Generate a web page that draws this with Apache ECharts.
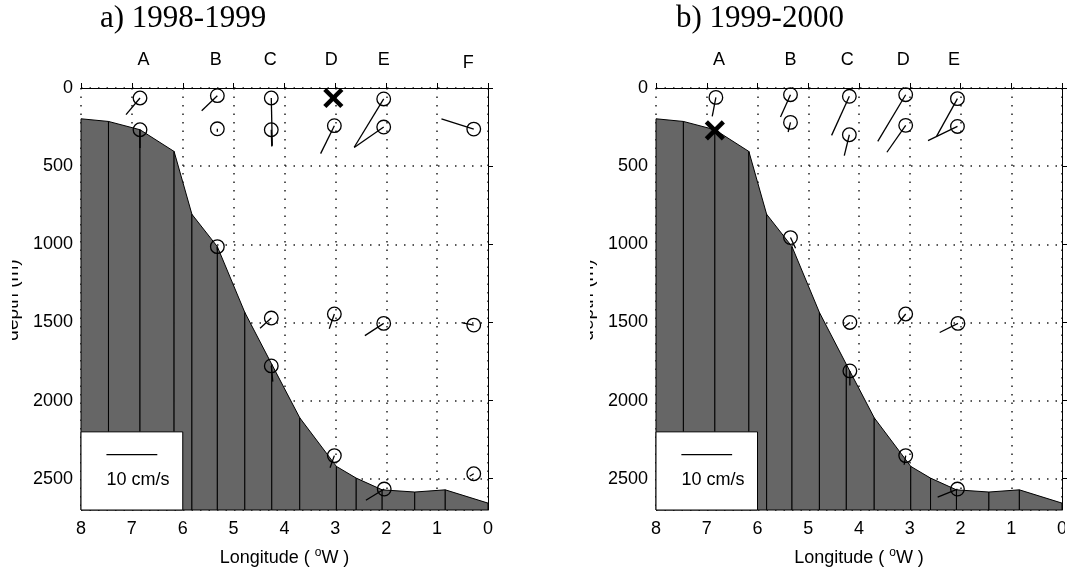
<!DOCTYPE html>
<html>
<head>
<meta charset="utf-8">
<script src="https://cdn.jsdelivr.net/npm/echarts@6/dist/echarts.min.js"></script>
<style>
  html, body { margin: 0; padding: 0; background: #fff; }
  #chart { width: 1086px; height: 574px; }
</style>
</head>
<body>
<div id="chart"></div>
<script>
// ---- Bathymetry along the section (longitude in degrees W, depth in m) ----
const bathyLon   = [8.0, 7.46, 6.84, 6.17, 5.82, 5.32, 4.78, 4.25, 3.70, 2.98, 2.59, 2.08, 1.44, 0.84, 0.0];
const bathyDepth = [197, 214, 267, 406, 808, 1015, 1436, 1768, 2110, 2421, 2496, 2571, 2585, 2571, 2656];
const maxDepth = 2700;

// ---- Axis ticks ----
const lonTicks   = [0, 1, 2, 3, 4, 5, 6, 7, 8];
const depthTicks = [0, 500, 1000, 1500, 2000, 2500];

// ---- 1998-1999: current meters (lon, depth, east cm/s, north cm/s) ----
const lon9899   = [6.84, 6.84, 5.32, 5.32, 5.32, 4.26, 4.26, 4.26, 4.26, 3.02, 3.02, 3.02, 2.05, 2.05, 2.05, 2.04, 0.28, 0.28, 0.28];
const depth9899 = [64, 267, 49, 261, 1015, 64, 267, 1472, 1778, 241, 1446, 2352, 70, 250, 1506, 2566, 263, 1517, 2468];
const u9899     = [-2.75, 0.0, -3.08, 0.0, 0.0, 0.2, 0.1, -2.2, 0.3, -2.7, -1.0, -0.85, -5.8, -5.8, -3.7, -3.6, -6.35, -2.4, -0.8];
const v9899     = [-3.28, -3.6, -2.95, -0.6, -0.6, -9.4, -3.3, -2.0, -3.1, -5.5, -2.9, -2.4, -9.5, -4.0, -2.4, -2.2, 2.0, 0.5, -0.5];
// instruments without a record
const lostLon9899   = [3.04];
const lostDepth9899 = [64];
// mooring names
const moorings9899     = ['A', 'B', 'C', 'D', 'E', 'F'];
const mooringLon9899   = [6.77, 5.35, 4.28, 3.08, 2.05, 0.39];
const mooringDepth9899 = [-179, -179, -179, -179, -179, -160];

// ---- 1999-2000 ----
const lon9900   = [6.82, 5.35, 5.35, 5.35, 4.19, 4.19, 4.18, 4.18, 3.08, 3.08, 3.08, 3.08, 2.06, 2.06, 2.05, 2.06];
const depth9900 = [60, 43, 220, 957, 53, 299, 1500, 1810, 43, 239, 1446, 2352, 68, 246, 1506, 2566];
const u9900     = [-0.72, -1.97, -0.46, 1.0, -3.5, -1.0, -1.0, 0.0, -5.5, -3.7, -1.6, -0.3, -4.1, -5.8, -3.6, -3.9];
const v9900     = [-3.73, -4.4, -1.9, -2.1, -7.7, -4.1, -0.8, -2.9, -9.2, -5.3, -2.0, -1.8, -7.4, -2.8, -1.8, -1.6];
const lostLon9900   = [6.84];
const lostDepth9900 = [271];
const moorings9900     = ['A', 'B', 'C', 'D', 'E'];
const mooringLon9900   = [6.76, 5.35, 4.23, 3.13, 2.13];
const mooringDepth9900 = [-179, -179, -179, -179, -179];

// ---- Velocity scale: a 10 cm/s stick spans one degree of longitude ----
const scaleSpeed = 10;
const scaleLonSpan = 1;
const scaleBoxLon = [8, 6];
const scaleBoxDepth = [2200, 2700];
const scaleBarLon = 7.5;
const scaleBarDepth = 2346;
const scaleTextDepth = 2506;
const scaleText = '10 cm/s';

const FONT = "'Liberation Sans', Arial, Helvetica, sans-serif";
const SERIF = "'Liberation Serif', 'Times New Roman', serif";
const FS = 18;

function pxPerCm(api) {
  return Math.abs(api.coord([scaleLonSpan, 0])[0] - api.coord([0, 0])[0]) / scaleSpeed;
}

// one trapezoid per bathymetry segment, outlined like a patch
const bathySegments = bathyLon.slice(0, -1).map((lon, i) =>
  [lon, bathyDepth[i], bathyLon[i + 1], bathyDepth[i + 1]]);

function bathySeries(p) {
  return {
    type: 'custom', xAxisIndex: p, yAxisIndex: p, z: 2,
    data: bathySegments,
    renderItem: (params, api) => {
      const a = api.coord([api.value(0), api.value(1)]);
      const b = api.coord([api.value(2), api.value(3)]);
      const bb = api.coord([api.value(2), maxDepth]);
      const ab = api.coord([api.value(0), maxDepth]);
      return {
        type: 'polygon',
        shape: { points: [a, b, bb, ab] },
        style: { fill: '#666666', stroke: '#000', lineWidth: 1 }
      };
    }
  };
}

function stickSeries(p, lon, depth, u, v) {
  return {
    type: 'custom', xAxisIndex: p, yAxisIndex: p, z: 4,
    data: lon.map((x, i) => [x, depth[i], u[i], v[i]]),
    renderItem: (params, api) => {
      const c = api.coord([api.value(0), api.value(1)]);
      const k = pxPerCm(api);
      return {
        type: 'group',
        children: [
          { type: 'line', shape: { x1: c[0], y1: c[1], x2: c[0] + api.value(2) * k, y2: c[1] - api.value(3) * k },
            style: { stroke: '#000', lineWidth: 1.3 } },
          { type: 'circle', shape: { cx: c[0], cy: c[1], r: 6.8 },
            style: { fill: 'none', stroke: '#000', lineWidth: 1.3 } }
        ]
      };
    }
  };
}

function lostSeries(p, lon, depth) {
  return {
    type: 'custom', xAxisIndex: p, yAxisIndex: p, z: 5,
    data: lon.map((x, i) => [x, depth[i]]),
    renderItem: (params, api) => {
      const c = api.coord([api.value(0), api.value(1)]);
      const h = 8.5;
      const st = { stroke: '#000', lineWidth: 4.5 };
      return {
        type: 'group',
        children: [
          { type: 'line', shape: { x1: c[0] - h, y1: c[1] - h, x2: c[0] + h, y2: c[1] + h }, style: st },
          { type: 'line', shape: { x1: c[0] - h, y1: c[1] + h, x2: c[0] + h, y2: c[1] - h }, style: st }
        ]
      };
    }
  };
}

function nameSeries(p, names, lon, depth) {
  return {
    type: 'custom', xAxisIndex: p, yAxisIndex: p, z: 5,
    data: lon.map((x, i) => [x, depth[i]]),
    renderItem: (params, api) => {
      const c = api.coord([api.value(0), api.value(1)]);
      return {
        type: 'text', x: c[0], y: c[1],
        style: { text: names[params.dataIndex], fontSize: FS, fontFamily: FONT, fill: '#000',
                 align: 'center', verticalAlign: 'middle' }
      };
    }
  };
}

function scaleSeries(p) {
  return {
    type: 'custom', xAxisIndex: p, yAxisIndex: p, z: 6,
    data: [[scaleBoxLon[0], scaleBoxLon[1], scaleBoxDepth[0], scaleBoxDepth[1]]],
    renderItem: (params, api) => {
      const p0 = api.coord([api.value(0), api.value(2)]);
      const p1 = api.coord([api.value(1), api.value(3)]);
      const k = pxPerCm(api);
      const s = api.coord([scaleBarLon, scaleBarDepth]);
      const t = api.coord([scaleBarLon, scaleTextDepth]);
      return {
        type: 'group',
        children: [
          { type: 'rect',
            shape: { x: Math.min(p0[0], p1[0]), y: Math.min(p0[1], p1[1]),
                     width: Math.abs(p1[0] - p0[0]), height: Math.abs(p1[1] - p0[1]) },
            style: { fill: '#fff', stroke: '#000', lineWidth: 1 } },
          { type: 'line', shape: { x1: s[0], y1: s[1], x2: s[0] + scaleSpeed * k, y2: s[1] },
            style: { stroke: '#000', lineWidth: 1.3 } },
          { type: 'text', x: t[0], y: t[1],
            style: { text: scaleText, fontSize: FS, fontFamily: FONT, fill: '#000',
                     align: 'left', verticalAlign: 'middle' } }
        ]
      };
    }
  };
}

function xAxis(p) {
  return {
    gridIndex: p, type: 'value', min: lonTicks[0], max: lonTicks[lonTicks.length - 1], interval: 1,
    inverse: true,
    axisLine: { lineStyle: { color: '#000', width: 1 } },
    axisTick: { inside: true, length: 5, lineStyle: { color: '#000' } },
    axisLabel: { color: '#000', fontSize: FS, fontFamily: FONT, margin: 10 },
    splitLine: { show: true, lineStyle: { type: [1.5, 7], color: '#222', width: 1.5 } },
    name: '{t|Longitude ( }{s|o}{t|W )}',
    nameLocation: 'middle', nameGap: 37,
    nameTextStyle: {
      rich: {
        t: { fontSize: FS, fontFamily: FONT, color: '#000', lineHeight: 22 },
        s: { fontSize: 12, fontFamily: FONT, color: '#000', lineHeight: 12, verticalAlign: 'top' }
      }
    }
  };
}

function yAxis(p) {
  return {
    gridIndex: p, type: 'value', min: depthTicks[0], max: maxDepth, interval: 500,
    inverse: true,
    axisLine: { lineStyle: { color: '#000', width: 1 } },
    axisTick: { inside: true, length: 5, lineStyle: { color: '#000' } },
    axisLabel: { color: '#000', fontSize: FS, fontFamily: FONT, margin: 8, showMaxLabel: false,
                 formatter: (val) => String(val) },
    splitLine: { show: true, lineStyle: { type: [1.5, 7], color: '#222', width: 1.5 } }
  };
}

const chart = echarts.init(document.getElementById('chart'), null, { renderer: 'canvas' });
chart.setOption({
  animation: false,
  backgroundColor: '#fff',
  grid: [
    { left: 81, top: 88, width: 407, height: 422 },
    { left: 656, top: 88, width: 406, height: 422 }
  ],
  xAxis: [xAxis(0), xAxis(1)],
  yAxis: [yAxis(0), yAxis(1)],
  series: [
    bathySeries(0),
    stickSeries(0, lon9899, depth9899, u9899, v9899),
    lostSeries(0, lostLon9899, lostDepth9899),
    nameSeries(0, moorings9899, mooringLon9899, mooringDepth9899),
    scaleSeries(0),
    bathySeries(1),
    stickSeries(1, lon9900, depth9900, u9900, v9900),
    lostSeries(1, lostLon9900, lostDepth9900),
    nameSeries(1, moorings9900, mooringLon9900, mooringDepth9900),
    scaleSeries(1)
  ],
  graphic: [
    { type: 'text', x: 100, y: 19, style: { text: 'a) 1998-1999', fontSize: 31, fontFamily: SERIF, fill: '#000', verticalAlign: 'middle' } },
    { type: 'text', x: 676, y: 19, style: { text: 'b) 1999-2000', fontSize: 31, fontFamily: SERIF, fill: '#000', verticalAlign: 'middle' } },
    { type: 'text', x: 12.5, y: 300, rotation: Math.PI / 2,
      style: { text: 'depth (m)', fontSize: 19, fontFamily: FONT, fill: '#000', align: 'center', verticalAlign: 'middle' } },
    { type: 'text', x: 588, y: 300, rotation: Math.PI / 2,
      style: { text: 'depth (m)', fontSize: 19, fontFamily: FONT, fill: '#000', align: 'center', verticalAlign: 'middle' } },
    // page margins trimming the edges of the figure
    { type: 'rect', shape: { x: 0, y: 200, width: 12, height: 200 }, style: { fill: '#fff' }, z: 100 },
    { type: 'rect', shape: { x: 500, y: 200, width: 90, height: 200 }, style: { fill: '#fff' }, z: 100 },
    { type: 'rect', shape: { x: 1065, y: 514, width: 21, height: 34 }, style: { fill: '#fff' }, z: 100 }
  ]
});
</script>
</body>
</html>
